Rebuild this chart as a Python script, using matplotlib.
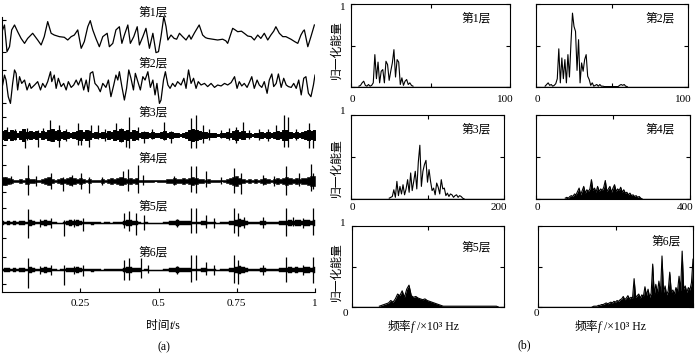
"""
Six-level wavelet decomposition: (a) time-domain sub-band signals,
(b) normalized energy spectra of each level
"""

import numpy as np
import matplotlib
matplotlib.use('Agg')
import matplotlib.pyplot as plt

plt.rcParams['font.family'] = ['Liberation Serif', 'Noto Sans CJK SC']

FIG_W, FIG_H = 696, 357   # px
DPI = 100

# ---------------- (a) time-domain signals ----------------
# levels 1-2: traced waveform, time in ms, amplitude in normalized units
ROW1_T = [2, 8, 16, 24, 31, 40, 50, 61, 72, 82, 98, 114, 125, 135, 146, 157, 167, 183, 199, 210,
          221, 231, 242, 253, 263, 274, 282, 290, 300, 311, 322, 336, 343, 354, 364, 375, 383, 391, 402, 410,
          421, 432, 439, 450, 460, 471, 482, 492, 500, 508, 517, 524, 530, 540, 550, 558, 567, 577, 588, 598,
          604, 615, 630, 641, 650, 657, 673, 689, 705, 715, 721, 737, 745, 753, 765, 774, 785, 796, 806, 817,
          827, 838, 849, 859, 868, 875, 886, 897, 907, 923, 935, 945, 955, 962, 966, 977, 987, 998]
ROW1_V = [0.38, 0.69, -0.98, -0.67, 0.38, 0.69, 0.27, -0.15, -0.46, -0.15, 0.17, -0.25, -0.56, -0.04, 0.9, 0.17, 0.06, -0.04, -0.08, -0.25,
          -0.04, 0.06, 0.38, -0.77, -0.35, 0.58, 0.96, 0.38, -0.15, -0.67, -0.04, 0.17, -0.67, -0.46, 0.38, 0.58, -0.46, 0.06, 0.69, -0.46,
          -0.04, 0.58, -0.56, -0.04, 0.48, -0.77, 0.17, -1.04, -0.98, -0.04, 1.21, 0.6, -0.25, 0.06, -0.15, -0.2, 0.17, -0.04, -0.25, 0.06,
          -0.2, 0.2, 0.69, 0.06, -0.1, -0.15, -0.2, -0.25, -0.2, -0.3, -0.46, 0.48, 0.38, 0.27, 0.3, 0.17, 0.0, -0.04, -0.25, 0.06,
          -0.15, 0.17, -0.25, 0.06, 0.3, 0.58, 0.17, -0.04, -0.04, -0.2, -0.35, -0.46, 0.06, 0.3, 0.38, -0.67, -0.04, 0.69]

ROW2_T = [2, 8, 13, 20, 27, 34, 40, 45, 50, 56, 63, 72, 80, 88, 93, 104, 114, 123, 130, 138,
          146, 155, 159, 167, 173, 180, 189, 197, 205, 212, 221, 229, 237, 244, 253, 261, 269, 276, 282, 290,
          297, 306, 314, 322, 332, 340, 348, 357, 364, 370, 375, 383, 391, 398, 405, 412, 420, 426, 434, 442,
          450, 457, 466, 474, 482, 489, 495, 503, 508, 516, 522, 530, 537, 545, 553, 561, 572, 581, 588, 596,
          604, 612, 620, 627, 636, 647, 657, 668, 679, 689, 700, 711, 721, 732, 743, 751, 758, 766, 774, 783,
          790, 798, 806, 815, 822, 830, 838, 847, 854, 862, 868, 876, 883, 892, 900, 908, 915, 924, 932, 940,
          948, 956, 964, 971, 979, 987, 995, 1000]
ROW2_V = [0, 0.62, 0.31, -0.73, -1.15, 0.1, 0.94, 0.73, -0.31, 0.52, 0.1, 0.31, -0.31, 0.1, -0.21, 0, 0.21, -0.31, 0.1, -0.15,
          0.21, 0.83, 0.21, 0.62, -0.21, 0.42, -0.1, 0.1, -0.31, 0.21, -0.15, 0, 0.31, 0, 0.42, -0.31, 0.31, -0.42, 0.73, 0.83,
          0.1, -0.1, -0.42, 0.1, -0.15, 0.31, -0.73, 0, 0.62, 0.31, 0.83, -0.1, -0.94, -0.21, 0.94, 0.42, -0.31, 0.73, 0.21, -0.31,
          0.52, 0.31, 0.83, -0.15, 0.31, -0.62, 0.1, -1.15, -0.94, 0.31, 0.83, 0, -0.21, 0.1, -0.1, 0.21, 0, 0.42, -0.21, 0.94,
          0.1, 0.42, -0.21, 0.21, 0, 0.1, -0.1, 0.1, -0.15, 0, -0.06, 0.1, 0, 0.15, 0.52, -0.21, 0.21, -0.06, 0.1, -0.15,
          0.15, 0.52, -0.21, 0.31, 0, -0.15, 0.21, -0.52, 0.31, 0.69, -0.1, 0.1, 0.69, -0.15, 0.42, 0, -0.1, -0.15, 0.1, -0.21,
          0.31, -0.62, 0.42, 0.52, -0.52, -0.73, 0, 0.62]

# levels 3-6: dense-core half-width (px) every 10 ms, plus isolated spikes (ms, up px, down px)
BAND_T = np.arange(0, 1001, 10)
ROW3_CORE = [4, 5, 3, 5, 4, 2, 4, 6, 3, 4, 3,
             4, 2, 4, 3, 5, 6, 4, 5, 3, 4,
             3, 2, 3, 4, 5, 3, 5, 4, 2, 3,
             2, 3, 2, 4, 3, 5, 4, 6, 4, 5,
             3, 5, 4, 2, 3, 3, 2, 3, 2, 2,
             3, 4, 2, 3, 2, 2, 1, 2, 3, 5,
             6, 5, 4, 3, 3, 2, 2, 2, 1, 2,
             2, 3, 2, 4, 5, 3, 4, 2, 2, 1,
             2, 2, 3, 2, 3, 2, 3, 4, 3, 5,
             5, 3, 2, 3, 2, 3, 4, 5, 4, 5]
ROW4_CORE = [4, 4, 3, 2, 1, 1, 2, 1, 3, 2, 2,
             1, 1, 2, 3, 4, 2, 1, 2, 3, 2,
             3, 4, 3, 2, 3, 2, 1, 2, 1, 1,
             1, 2, 1, 2, 3, 2, 3, 4, 3, 2,
             3, 2, 3, 1, 1, 1, 1, 1, 0.5, 1,
             1, 1, 2, 2, 3, 2, 2, 3, 2, 3,
             4, 3, 2, 2, 1, 2, 1, 1, 1, 0.5,
             1, 2, 3, 4, 5, 3, 2, 1, 2, 1,
             2, 1, 2, 3, 2, 1, 2, 3, 2, 3,
             4, 3, 2, 3, 2, 3, 3, 4, 5, 5]
ROW5_CORE = [2, 1, 2, 1, 2, 1, 2, 2, 1, 3, 2,
             1, 1, 2, 3, 2, 1, 1, 0.5, 0.5, 1,
             2, 3, 2, 3, 2, 1, 1, 1, 1.5, 1,
             1, 0.5, 1, 1, 0.5, 1, 1, 1, 2, 3,
             3, 2, 2, 1, 0.5, 1, 0.5, 0.5, 0.5, 0.5,
             0.5, 1, 1, 2, 2, 3, 2, 2, 2, 2,
             1, 1, 1, 2, 2, 1, 1, 1, 0.5, 1,
             1, 1, 2, 2, 3, 4, 3, 2, 1, 1,
             1, 1, 2, 2, 1, 1, 1, 1, 2, 2,
             2, 3, 2, 3, 3, 2, 3, 3, 2, 3]
ROW6_CORE = [1, 2, 2, 1, 2, 1, 2, 2, 1, 3, 2,
             1, 1, 2, 3, 2, 1, 1, 0.5, 1, 1,
             2, 2, 2, 3, 2, 1, 1, 1, 1.5, 1,
             1, 0.5, 1, 1, 1, 1, 1, 1, 2, 3,
             3, 2, 2, 2, 0.5, 1, 0.5, 0.5, 0.5, 0.5,
             0.5, 1, 1, 2, 2, 3, 2, 2, 2, 2,
             1, 1, 1, 2, 2, 1, 1, 1, 0.5, 1,
             1, 1, 2, 2, 3, 4, 3, 2, 1, 1,
             1, 1, 2, 2, 1, 1, 1, 1, 2, 2,
             2, 3, 2, 3, 2, 2, 3, 3, 2, 3]

ROW3_SPIKES = [(16, 8, 4), (40, 6, 5), (72, 4, 13), (80, 7, 5), (115, 5, 12), (130, 7, 4), (152, 15, 6),
               (183, 10, 12), (205, 6, 6), (242, 12, 10), (252, 5, 10), (279, 5, 12), (284, 10, 4),
               (306, 10, 4), (330, 6, 6), (364, 12, 5), (380, 7, 7), (396, 5, 12), (407, 18, 13),
               (434, 8, 5), (455, 4, 8), (480, 6, 4), (519, 13, 5), (540, 4, 8), (604, 17, 13),
               (620, 20, 13), (641, 10, 8), (660, 6, 5), (700, 5, 3), (725, 7, 5), (748, 8, 8),
               (769, 13, 4), (790, 5, 4), (820, 6, 5), (850, 6, 6), (875, 10, 4), (902, 20, 12),
               (913, 18, 12), (940, 6, 5), (982, 12, 13), (993, 5, 13)]
ROW4_SPIKES = [(10, 4, 4), (30, 5, 3), (82, 16, 14), (110, 5, 5), (157, 8, 8), (194, 4, 10), (225, 6, 5),
               (252, 8, 8), (279, 4, 12), (320, 4, 4), (386, 10, 4), (402, 12, 10), (434, 16, 12),
               (450, 6, 4), (550, 5, 4), (604, 15, 11), (620, 15, 12), (652, 10, 6), (700, 4, 3),
               (742, 13, 12), (764, 8, 13), (833, 6, 4), (870, 5, 5), (907, 15, 14), (950, 8, 5),
               (987, 17, 10), (995, 8, 8)]
ROW5_SPIKES = [(82, 14, 15), (120, 4, 4), (157, 5, 5), (199, 3, 13), (230, 4, 4), (258, 5, 8), (391, 10, 5),
               (407, 12, 8), (428, 10, 12), (455, 8, 7), (560, 4, 4), (604, 15, 10), (620, 15, 10),
               (652, 8, 5), (678, 5, 5), (742, 15, 10), (753, 10, 13), (774, 6, 5), (833, 6, 5),
               (907, 15, 13), (929, 6, 3), (961, 5, 5), (993, 15, 12)]
ROW6_SPIKES = [(82, 12, 18), (120, 4, 4), (157, 5, 5), (199, 5, 15), (230, 4, 4), (258, 5, 6), (391, 10, 10),
               (407, 12, 10), (444, 12, 8), (466, 5, 3), (560, 4, 4), (604, 15, 12), (620, 15, 10),
               (652, 8, 5), (678, 5, 5), (742, 15, 13), (753, 10, 14), (833, 5, 5), (907, 13, 12),
               (961, 5, 5), (993, 13, 13)]

TIME_TICKS = [0.25, 0.5, 0.75, 1]
LEVEL_NAMES = ['第1层', '第2层', '第3层', '第4层', '第5层', '第6层']

# ---------------- (b) normalized energy spectra ----------------
S1_F = np.arange(5, 40)
S1_E = [0.01, 0.02, 0.05, 0.07, 0.02, 0.01, 0.03, 0.01, 0.02, 0.05,
        0.39, 0.10, 0.30, 0.05, 0.19, 0.21, 0.05, 0.31, 0.27, 0.08,
        0.19, 0.29, 0.45, 0.12, 0.33, 0.30, 0.03, 0.11, 0.02, 0.07,
        0.09, 0.03, 0.05, 0.02, 0.01]
S2_F = np.arange(6, 61)
S2_E = [0.01, 0.03, 0.05, 0.02, 0.03, 0.01, 0.02, 0.04, 0.10, 0.46,
        0.05, 0.35, 0.10, 0.33, 0.05, 0.39, 0.12, 0.53, 0.89, 0.73,
        0.67, 0.20, 0.57, 0.05, 0.29, 0.19, 0.33, 0.39, 0.13, 0.09,
        0.02, 0.05, 0.01, 0.02, 0.03, 0.01, 0.03, 0.01,
        0.01, 0.005, 0.005, 0.005, 0.005, 0.005, 0.005, 0.005, 0.005, 0.005, 0.005,
        0.02, 0.03, 0.02, 0.03, 0.01, 0.005]
S3_F = np.arange(50, 149, 2)
S3_E = [0.01, 0.02, 0.03, 0.11, 0.02, 0.21, 0.04, 0.15, 0.06, 0.17,
        0.05, 0.12, 0.23, 0.08, 0.31, 0.10, 0.21, 0.33, 0.12, 0.44,
        0.64, 0.15, 0.33, 0.41, 0.46, 0.20, 0.35, 0.21, 0.10, 0.13,
        0.05, 0.19, 0.14, 0.06, 0.23, 0.12, 0.13, 0.04, 0.07, 0.03,
        0.06, 0.05, 0.02, 0.04, 0.05, 0.02, 0.04, 0.03, 0.01, 0.0]
S4_F = np.arange(76, 277, 4)
S4_E = [0.01, 0.02, 0.01, 0.03, 0.04, 0.03, 0.06, 0.05, 0.09, 0.13,
        0.05, 0.10, 0.15, 0.07, 0.11, 0.09, 0.12, 0.23, 0.10, 0.13,
        0.08, 0.15, 0.09, 0.12, 0.10, 0.14, 0.22, 0.09, 0.12, 0.15,
        0.08, 0.13, 0.17, 0.09, 0.12, 0.10, 0.14, 0.08, 0.11, 0.07,
        0.08, 0.05, 0.07, 0.04, 0.05, 0.03, 0.04, 0.02, 0.03, 0.01, 0.0]
S5_F = list(range(144, 481, 12)) + [760, 770]
S5_E = [0.01, 0.02, 0.03, 0.04, 0.05, 0.08, 0.06, 0.10, 0.16, 0.14,
        0.20, 0.12, 0.22, 0.27, 0.14, 0.12, 0.13, 0.11, 0.10, 0.09,
        0.10, 0.08, 0.07, 0.06, 0.05, 0.04, 0.03, 0.02, 0.01, 0.01, 0.0]
S6_F = np.arange(560, 1601, 16)
S6_E = [0.0, 0.01, 0.01, 0.01, 0.02, 0.02, 0.03, 0.03, 0.04, 0.05,
        0.04, 0.05, 0.06, 0.05, 0.07, 0.06, 0.08, 0.07, 0.09, 0.10,
        0.13, 0.09, 0.11, 0.14, 0.10, 0.12, 0.11, 0.35, 0.12, 0.14,
        0.16, 0.11, 0.15, 0.13, 0.25, 0.14, 0.22, 0.12, 0.17, 0.53,
        0.15, 0.28, 0.17, 0.32, 0.16, 0.63, 0.18, 0.26, 0.15, 0.20,
        0.43, 0.18, 0.21, 0.16, 0.24, 0.19, 0.38, 0.20, 0.69, 0.22,
        0.26, 0.18, 0.24, 0.21, 0.30, 0.59]
SPEC_XMAX = [100, 100, 200, 400, 800, 1600]


def px_axes(fig, left, top, right, bottom):
    """Axes placed by pixel edges of the 696x357 canvas"""
    return fig.add_axes([left / FIG_W, 1 - bottom / FIG_H,
                         (right - left) / FIG_W, (bottom - top) / FIG_H])


def px_text(fig, x, y, s, **kw):
    kw.setdefault('ha', 'center')
    kw.setdefault('va', 'center')
    return fig.text(x / FIG_W, 1 - y / FIG_H, s, **kw)


def px_rich_text(fig, xc, y_base, parts, fontsize):
    """Centered run of text pieces (normal / italic), aligned on baseline"""
    renderer = fig.canvas.get_renderer()
    pieces = []
    for s, style in parts:
        t = px_text(fig, 0, y_base, s, ha='left', va='baseline', style=style, fontsize=fontsize)
        pieces.append((t, t.get_window_extent(renderer).width))
    x = xc - sum(w for _, w in pieces) / 2
    for t, w in pieces:
        t.set_x(x / FIG_W)
        x += w


def plot_time_panel(fig):
    ax = px_axes(fig, 2, 17, 315, 292)
    ax.set_xlim(0, 1)
    ax.set_ylim(0, 275)

    centers = [256, 207, 157, 111.5, 68.7, 22]   # row baselines (px above x-axis)
    label_y = [279.5, 228, 179.5, 133, 85, 39]

    for c, t, v in zip(centers[:2], [ROW1_T, ROW2_T], [ROW1_V, ROW2_V]):
        ax.plot(np.array(t) / 1000, c + 16 * np.array(v), color='k', lw=0.9)

    cores = [ROW3_CORE, ROW4_CORE, ROW5_CORE, ROW6_CORE]
    spikes = [ROW3_SPIKES, ROW4_SPIKES, ROW5_SPIKES, ROW6_SPIKES]
    edge_lw = [0.7, 0.4, 0.3, 0.3]
    for c, core, sp, elw in zip(centers[2:], cores, spikes, edge_lw):
        core = np.array(core)
        ax.fill_between(BAND_T / 1000, c - core, c + core, step='mid',
                        facecolor='k', edgecolor='k', lw=elw)
        ax.plot([0, 1], [c, c], color='k', lw=0.8)
        sp = np.array(sp, dtype=float)
        ax.vlines(sp[:, 0] / 1000, c - sp[:, 2], c + sp[:, 1], color='k', lw=0.9)

    for name, y in zip(LEVEL_NAMES, label_y):
        ax.text(0.484, y, name, ha='center', va='center', fontsize=8.5)

    ax.spines['top'].set_visible(False)
    ax.spines['right'].set_visible(False)
    for s in ['left', 'bottom']:
        ax.spines[s].set_linewidth(0.8)
    ax.set_xticks(TIME_TICKS)
    ax.set_xticklabels([f'{v:g}' for v in TIME_TICKS], fontsize=8)
    ax.set_yticks([272, 240, 222, 189, 175, 147, 127, 100, 84, 54, 35, 8])
    ax.set_yticklabels([])
    ax.tick_params(direction='in', length=3, width=0.8, pad=5)

    px_rich_text(fig, 163, 329, [('时间', 'normal'), ('t', 'italic'), ('/s', 'normal')], 8.5)
    px_text(fig, 164, 347, '(a)', fontsize=8.5)


def plot_spectra(fig):
    rects = [(351, 4, 510, 87), (536, 4, 688, 87),
             (351, 115, 504, 199), (536, 115, 690, 199),
             (352, 226, 504, 307), (538, 226, 693, 307)]
    data = [(S1_F, S1_E), (S2_F, S2_E), (S3_F, S3_E),
            (S4_F, S4_E), (S5_F, S5_E), (S6_F, S6_E)]
    title_pos = [(0.79, 0.82), (0.816, 0.82), (0.82, 0.83),
                 (0.805, 0.83), (0.82, 0.73), (0.83, 0.81)]
    filled = [False, False, False, True, True, True]

    for i, (rect, (f, e), xmax) in enumerate(zip(rects, data, SPEC_XMAX)):
        ax = px_axes(fig, *rect)
        ax.plot([0, xmax], [0.004, 0.004], color='k', lw=1.0)
        ax.plot(f, e, color='k', lw=0.8)
        if filled[i]:
            ax.fill_between(f, 0, e, color='k', lw=0)
        ax.set_xlim(0, xmax)
        ax.set_ylim(0, 1)
        ax.set_xticks([0, xmax / 2, xmax])
        ax.set_yticks([0, 0.5, 1])
        ax.tick_params(direction='in', length=3, width=0.8, top=True, right=True,
                       labelbottom=False, labelleft=False)
        for s in ax.spines.values():
            s.set_linewidth(0.8)
        ax.text(title_pos[i][0], title_pos[i][1], LEVEL_NAMES[i], transform=ax.transAxes,
                ha='center', va='center', fontsize=8.5)

        left, top, right, bottom = rect
        if i % 2 == 0:
            px_text(fig, 343, top + 3 if i == 0 else top - 3, '1', fontsize=8)
            px_text(fig, 337, [50, 168, 272][i // 2], '归一化能量', rotation=90, fontsize=8.5)
        if i < 4:
            ty = 100 if i < 2 else 208
            px_text(fig, left + 1, ty, '0', fontsize=8)
            px_text(fig, right - 5, ty, str(xmax), fontsize=8)
        else:
            px_text(fig, left - 7 if i == 4 else left - 2, 314, '0', fontsize=8)
            px_rich_text(fig, (left + right) / 2 - 5, 330,
                         [('频率', 'normal'), ('f', 'italic'), (' /×10³ Hz', 'normal')], 8.5)

    px_text(fig, 524, 345, '(b)', fontsize=8.5)


def main():
    fig = plt.figure(figsize=(FIG_W / DPI, FIG_H / DPI), dpi=DPI)
    plot_time_panel(fig)
    plot_spectra(fig)
    fig.savefig('out.png', dpi=DPI)


if __name__ == '__main__':
    main()
